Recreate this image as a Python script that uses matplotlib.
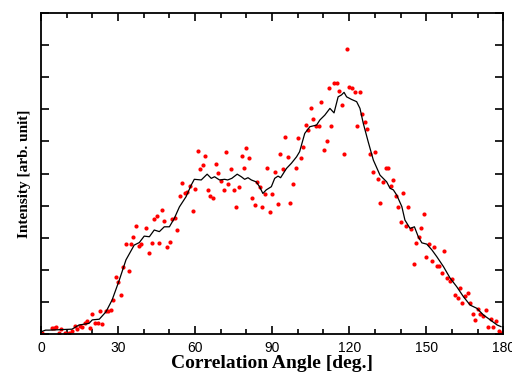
import numpy as np
import matplotlib
matplotlib.use("Agg")
from matplotlib import pyplot as plt
from matplotlib.ticker import MultipleLocator, NullFormatter

# measured points (angle in degrees, intensity in arb. units)
angle_pts = [0.3, 4.2, 5.1, 6.0, 7.0, 7.9, 9.4, 10.9, 12.0, 13.2, 14.2, 15.1, 16.1, 17.2,
             18.1, 19.0, 20.0, 21.1, 22.1, 23.0, 23.9, 25.2, 26.2, 27.1, 28.0, 29.1, 30.1,
             31.1, 32.1, 33.1, 34.1, 35.0, 36.0, 37.1, 38.0, 39.1, 41.0, 42.1, 43.1, 44.1,
             45.0, 46.1, 47.1, 48.0, 49.1, 50.1, 51.2, 52.2, 53.1, 54.2, 55.1, 56.1, 57.0,
             58.1, 59.0, 60.0, 61.0, 62.1, 63.0, 64.0, 64.9, 66.0, 66.9, 68.1, 69.0, 70.2,
             71.1, 72.0, 73.0, 74.1, 75.1, 76.0, 77.0, 78.1, 79.0, 80.0, 81.1, 82.1, 83.2,
             84.2, 85.1, 86.2, 87.1, 88.1, 89.0, 90.1, 91.0, 92.2, 93.1, 94.1, 95.2, 96.2,
             97.1, 98.1, 99.2, 100.1, 101.1, 102.2, 103.2, 104.1, 105.0, 106.1, 107.1, 108.2,
             109.2, 110.1, 111.2, 112.1, 113.1, 114.1, 115.2, 116.2, 117.1, 118.0, 119.1,
             120.1, 121.2, 122.2, 123.1, 124.1, 125.1, 126.1, 127.0, 128.1, 129.1, 130.0,
             131.1, 132.1, 133.2, 134.2, 135.1, 136.2, 137.2, 138.1, 139.1, 140.1, 141.1,
             142.0, 143.0, 144.1, 145.1, 146.2, 147.1, 148.1, 149.0, 150.1, 151.1, 152.2,
             153.1, 154.1, 155.1, 156.2, 157.1, 158.1, 159.2, 160.2, 161.1, 162.2, 163.2,
             164.1, 165.2, 166.2, 167.1, 168.2, 169.1, 170.1, 171.1, 172.1, 173.1, 174.2,
             175.2, 176.1, 177.2, 178.2, 179.1]
intensity_pts = [0.02, 0.18, 0.18, 0.21, 0.04, 0.16, 0.04, 0.02, 0.09, 0.26, 0.15, 0.26, 0.21,
                 0.33, 0.40, 0.18, 0.61, 0.35, 0.35, 0.71, 0.31, 0.71, 0.73, 0.75, 1.05, 1.79,
                 1.61, 1.22, 2.10, 2.79, 1.96, 2.79, 3.01, 3.36, 2.74, 2.79, 3.31, 2.53, 2.83,
                 3.57, 3.67, 2.83, 3.87, 3.53, 2.70, 2.88, 3.57, 3.61, 3.23, 4.31, 4.70, 4.39,
                 4.41, 4.61, 3.84, 4.52, 5.70, 5.14, 5.27, 5.54, 4.48, 4.31, 4.23, 5.31, 5.01,
                 4.78, 4.48, 5.66, 4.66, 5.14, 4.49, 3.96, 4.57, 5.54, 5.18, 5.79, 5.49, 4.23,
                 4.01, 4.74, 4.58, 3.96, 4.36, 5.18, 3.79, 4.36, 5.05, 4.06, 5.61, 5.13, 6.14,
                 5.52, 4.09, 4.66, 5.18, 6.10, 5.48, 5.83, 6.52, 6.36, 7.05, 6.70, 6.48, 6.48,
                 7.23, 5.74, 6.01, 7.66, 6.48, 7.83, 7.83, 7.57, 7.13, 5.62, 8.88, 7.70, 7.65,
                 7.53, 6.48, 7.53, 6.84, 6.61, 6.40, 5.62, 5.05, 5.67, 4.84, 4.09, 4.74, 5.18,
                 5.18, 4.61, 4.80, 4.30, 3.97, 3.49, 4.39, 3.36, 3.97, 3.27, 2.18, 2.83, 3.01,
                 3.31, 3.74, 2.39, 2.79, 2.26, 2.70, 2.13, 2.13, 1.91, 2.58, 1.74, 1.66, 1.70,
                 1.21, 1.13, 1.44, 0.96, 1.17, 1.27, 0.96, 0.61, 0.44, 0.79, 0.61, 0.56, 0.75,
                 0.22, 0.48, 0.22, 0.40, 0.08, 0.02]

# smoothed curve
angle_fit = [0.1, 1.8, 3.1, 12.1, 14.8, 18.7, 20.0, 22.7, 25.3, 27.7, 30.5, 33.1, 36.3, 38.3,
             40.2, 42.2, 44.1, 46.1, 48.0, 50.0, 51.9, 53.9, 56.5, 58.5, 59.7, 62.4, 64.7,
             66.3, 67.6, 69.5, 71.5, 72.7, 74.3, 76.4, 78.0, 79.3, 80.6, 81.9, 83.8, 85.1,
             86.4, 87.7, 89.7, 91.0, 92.3, 93.3, 95.6, 97.5, 99.5, 100.7, 102.7, 104.7, 107.3,
             108.6, 110.5, 112.5, 114.1, 115.7, 117.0, 118.0, 119.0, 120.9, 122.9, 124.2,
             125.5, 127.4, 129.4, 132.0, 134.6, 135.9, 137.2, 138.5, 140.5, 141.7, 143.7,
             145.4, 146.9, 148.3, 150.2, 152.2, 154.1, 156.7, 159.3, 161.9, 164.5, 167.1,
             169.7, 172.3, 174.9, 177.6, 179.1]
intensity_fit = [0.07, 0.12, 0.12, 0.15, 0.28, 0.33, 0.44, 0.46, 0.69, 1.06, 1.68, 2.31, 2.77,
                 2.85, 3.05, 3.03, 3.24, 3.19, 3.34, 3.34, 3.60, 3.96, 4.28, 4.64, 4.82, 4.80,
                 4.98, 4.85, 4.90, 4.80, 4.82, 4.80, 4.85, 4.98, 4.90, 4.82, 4.87, 4.80, 4.74,
                 4.59, 4.38, 4.49, 4.59, 4.85, 4.92, 4.87, 5.16, 5.32, 5.52, 5.68, 6.25, 6.46,
                 6.51, 6.67, 6.82, 7.03, 6.89, 7.39, 7.45, 7.53, 7.39, 7.31, 7.24, 7.03, 6.56,
                 5.99, 5.42, 4.95, 4.74, 4.54, 4.49, 4.33, 3.97, 3.55, 3.29, 3.34, 3.03, 2.84,
                 2.80, 2.62, 2.41, 2.10, 1.74, 1.47, 1.16, 0.90, 0.80, 0.59, 0.44, 0.28, 0.23]

fig = plt.figure(figsize=(5.12, 3.74), dpi=100)
ax = fig.add_axes([0.080, 0.107, 0.903, 0.858])

ax.plot(angle_fit, intensity_fit, color="black", lw=0.9, zorder=3)
ax.plot(angle_pts, intensity_pts, "o", color="#ff0000", ms=3.0, mec="none", zorder=2)

ax.set_xlim(0, 180)
ax.set_ylim(0, 10)
ax.xaxis.set_major_locator(MultipleLocator(30))
ax.xaxis.set_minor_locator(MultipleLocator(10))
ax.yaxis.set_major_locator(MultipleLocator(1))
ax.yaxis.set_major_formatter(NullFormatter())
ax.tick_params(which="both", direction="in", top=True, right=True, width=1.2)
ax.tick_params(which="major", length=6)
ax.tick_params(which="minor", length=3.5)
ax.tick_params(axis="x", labelsize=10, pad=5)
for lab in ax.get_xticklabels():
    lab.set_fontfamily("Liberation Sans")
for sp in ax.spines.values():
    sp.set_linewidth(1.3)

ax.set_xlabel("Correlation Angle [deg.]", fontfamily="Liberation Serif",
              fontweight="bold", fontsize=14, labelpad=0)
ax.set_ylabel("Intensity [arb. unit]", fontfamily="Liberation Serif",
              fontweight="bold", fontsize=11, labelpad=4)

fig.savefig("out.png", dpi=100)
